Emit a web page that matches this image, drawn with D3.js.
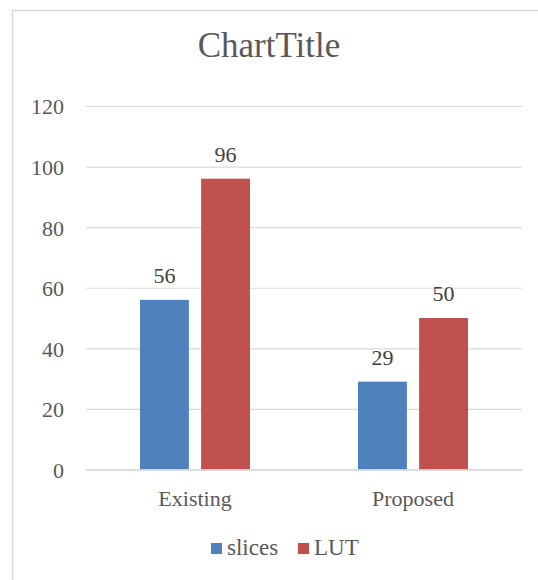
<!DOCTYPE html>
<html>
<head>
<meta charset="utf-8">
<script src="https://cdn.jsdelivr.net/npm/d3@7"></script>
<style>
  html, body { margin: 0; padding: 0; background: #fff; }
  svg { display: block; }
  svg text { font-family: "Liberation Serif", "DejaVu Serif", serif !important; }
</style>
</head>
<body>
<svg id="chart" width="538" height="580"></svg>
<script>
const title = "ChartTitle";
const categories = ["Existing", "Proposed"];
const seriesNames = ["slices", "LUT"];
const slicesValues = [56, 29];
const lutValues = [96, 50];
const yTicks = [0, 20, 40, 60, 80, 100, 120];
const colors = ["#4F81BD", "#C0504D"];

const seriesValues = [slicesValues, lutValues];
const data = categories.map((c, i) => ({
  category: c,
  values: seriesNames.map((s, j) => ({ series: s, value: seriesValues[j][i], color: colors[j] }))
}));

const FONT = "'Liberation Serif', 'DejaVu Serif', serif";
const svg = d3.select("#chart");

// outer border
svg.append("rect")
  .attr("x", 12.5).attr("y", 10.5)
  .attr("width", 560).attr("height", 600)
  .attr("fill", "none").attr("stroke", "#d9d9d9").attr("stroke-width", 1.5);

// title
svg.append("text")
  .attr("x", 269).attr("y", 57)
  .attr("text-anchor", "middle")
  .style("font-family", FONT)
  .attr("font-size", 35)
  .attr("fill", "#595959")
  .text(title);

const plotLeft = 86, plotRight = 522, plotTop = 106, plotBottom = 469.5;

const y = d3.scaleLinear().domain([0, 120]).range([plotBottom, plotTop]);
const x0 = d3.scaleBand().domain(categories).range([plotLeft, plotRight]).paddingInner(0).paddingOuter(0);
const groupWidth = 110;
const x1 = d3.scaleBand().domain(seriesNames).range([0, groupWidth]).paddingInner(0.2).paddingOuter(0);

// y axis with gridlines
const yAxis = d3.axisLeft(y)
  .tickValues(yTicks)
  .tickSize(-(plotRight - plotLeft))
  .tickPadding(22)
  .tickFormat(d3.format("d"));

const gy = svg.append("g")
  .attr("transform", `translate(${plotLeft},0)`)
  .call(yAxis)
  .attr("font-family", FONT);
gy.select(".domain").remove();
gy.selectAll(".tick line").attr("stroke", "#d9d9d9").attr("stroke-width", 1.2);
gy.selectAll(".tick text")
  .attr("fill", "#595959")
  .attr("font-size", 22)
  .style("font-family", FONT)
  .attr("dy", "0.36em");

// bars
const groups = svg.append("g").selectAll("g")
  .data(data).join("g")
  .attr("transform", d => `translate(${x0(d.category) + (x0.bandwidth() - groupWidth) / 2},0)`);

groups.selectAll("rect")
  .data(d => d.values).join("rect")
  .attr("x", d => x1(d.series))
  .attr("y", d => y(d.value))
  .attr("width", x1.bandwidth())
  .attr("height", d => y(0) - y(d.value))
  .attr("fill", d => d.color);

// data labels
groups.selectAll("text.lbl")
  .data(d => d.values).join("text")
  .attr("class", "lbl")
  .attr("x", d => x1(d.series) + x1.bandwidth() / 2)
  .attr("y", d => y(d.value) - 17)
  .attr("text-anchor", "middle")
  .style("font-family", FONT)
  .attr("font-size", 22)
  .attr("fill", "#404040")
  .text(d => d.value);

// x axis (baseline + category labels)
const xAxis = d3.axisBottom(x0).tickSize(0).tickPadding(36);
const gx = svg.append("g")
  .attr("transform", `translate(0,${plotBottom})`)
  .call(xAxis)
  .attr("font-family", FONT);
gx.select(".domain").attr("stroke", "#d9d9d9").attr("stroke-width", 1.5);
gx.selectAll(".tick text")
  .attr("fill", "#595959")
  .attr("font-size", 22)
  .style("font-family", FONT)
  .attr("dy", "0");

// legend
const legendX = [211, 298];
const legend = svg.append("g").selectAll("g")
  .data(seriesNames).join("g")
  .attr("transform", (d, i) => `translate(${legendX[i]},0)`);
legend.append("rect")
  .attr("x", 0).attr("y", 543)
  .attr("width", 11).attr("height", 11)
  .attr("fill", (d, i) => colors[i]);
legend.append("text")
  .attr("x", 16).attr("y", 555)
  .style("font-family", FONT)
  .attr("font-size", 23)
  .attr("fill", "#595959")
  .text(d => d);
</script>
</body>
</html>
